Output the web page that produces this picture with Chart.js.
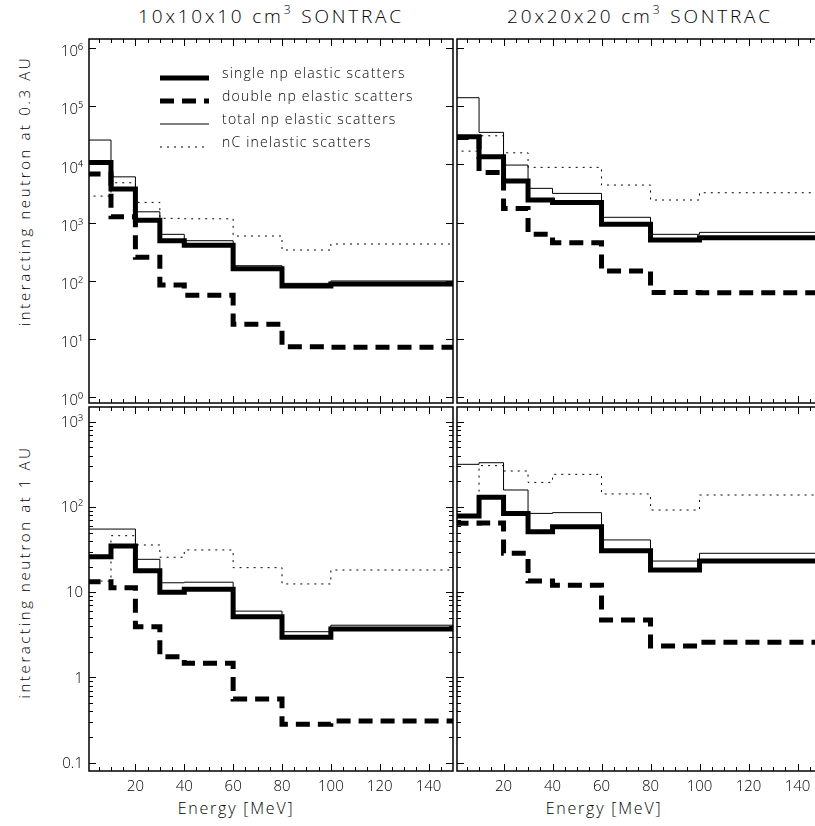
<!DOCTYPE html>
<html>
<head>
<meta charset="utf-8">
<script src="https://cdn.jsdelivr.net/npm/chart.js@4.4.1/dist/chart.umd.min.js"></script>
<style>
  html, body { margin: 0; padding: 0; background: #fff; width: 815px; height: 826px; overflow: hidden; }
  body { position: relative; font-family: "Open Sans", "Liberation Sans", Arial, sans-serif; font-weight: 300; color: #000; }
  canvas { position: absolute; }
  .txt { position: absolute; white-space: nowrap; transform: translate(-50%, -50%); line-height: 1; }
  .title { font-size: 19px; letter-spacing: 2.8px; }
  .title sup { font-size: 12px; vertical-align: 9px; letter-spacing: 3px; }
  .ytitle { font-size: 15px; letter-spacing: 2.6px; transform: translate(-50%, -50%) rotate(-90deg); }
  .xtitle { font-size: 16px; letter-spacing: 1.8px; }
</style>
</head>
<body>
<div class="txt title" style="left:271px; top:15px;">10x10x10 cm<sup>3</sup> SONTRAC</div>
<div class="txt title" style="left:640px; top:15px;">20x20x20 cm<sup>3</sup> SONTRAC</div>
<div class="txt ytitle" style="left:24px; top:191px;">interacting neutron at 0.3 AU</div>
<div class="txt ytitle" style="left:24px; top:572px;">interacting neutron at 1 AU</div>
<div class="txt xtitle" style="left:236px; top:808px;">Energy [MeV]</div>
<div class="txt xtitle" style="left:604px; top:808px;">Energy [MeV]</div>

<canvas id="tl"></canvas>
<canvas id="tr"></canvas>
<canvas id="bl"></canvas>
<canvas id="br"></canvas>

<script>
// energy bin edges [MeV]
const binEdges = [0, 10, 20, 30, 40, 60, 80, 100, 150];

// 0.3 AU, 10x10x10 cm3
const single03Small = [10800, 3770, 1100, 487, 405, 160, 81, 88];
const double03Small = [6800, 1260, 252, 84, 56, 17.8, 7.3, 7.2];
const total03Small = [26200, 6100, 1530, 627, 487, 181, 90, 99];
const inel03Small = [2850, 4830, 2220, 1180, 1160, 586, 337, 427];

// 0.3 AU, 20x20x20 cm3
const single03Large = [29900, 13500, 5170, 2440, 2220, 931, 500, 548];
const double03Large = [29000, 7280, 1750, 627, 450, 147, 63, 62];
const total03Large = [140000, 35500, 9730, 3870, 3170, 1230, 627, 678];
const inel03Large = [16900, 31000, 15800, 8890, 8890, 4410, 2440, 3250];

// 1 AU, 10x10x10 cm3
const single1Small = [26.1, 34.8, 17.9, 10.0, 10.8, 5.17, 2.96, 3.7];
const double1Small = [13.3, 11.3, 3.93, 1.75, 1.47, 0.558, 0.282, 0.308];
const total1Small = [55, 55, 24.3, 12.9, 13.1, 6.0, 3.44, 4.1];
const inel1Small = [13.5, 46, 35.8, 25.7, 31.3, 19.4, 12.5, 18.2];

// 1 AU, 20x20x20 cm3
const single1Large = [78.4, 130, 84, 51.3, 58.6, 30.7, 18.2, 23.2];
const double1Large = [64.3, 65, 28.6, 13.5, 12.1, 4.72, 2.34, 2.58];
const total1Large = [316, 330, 158, 84, 85.7, 41, 23.2, 28.6];
const inel1Large = [78, 305, 264, 194, 241, 142, 92, 138];

const seriesNames = ['single np elastic scatters', 'double np elastic scatters',
                     'total np elastic scatters', 'nC inelastic scatters'];

// ticks
const xTickValues = [5, 10, 15, 20, 25, 30, 35, 40, 45, 50, 55, 60, 65, 70, 75,
                     80, 85, 90, 95, 100, 105, 110, 115, 120, 125, 130, 135, 140, 145];
const xLabelValues = [20, 40, 60, 80, 100, 120, 140];
const nearDecades = [1, 10, 100, 1000, 10000, 100000, 1000000];
const nearTickLabels = ['10⁰', '10¹', '10²', '10³', '10⁴', '10⁵', '10⁶'];
const farDecades = [0.1, 1, 10, 100, 1000];
const farTickLabels = ['0.1', '1', '10', '10²', '10³'];
const minorSteps = [1, 2, 3, 4, 5, 6, 7, 8, 9];

const farTicks = [];
farDecades.forEach(d => minorSteps.forEach(m => { if (d * m <= 1400) farTicks.push(d * m); }));

const isDecade = v => Math.abs(Math.log10(v) - Math.round(Math.log10(v))) < 1e-6;
const tickFont = { family: '"Open Sans", "Liberation Sans", Arial, sans-serif', size: 15, weight: 300 };

// inward tick marks on all four sides plus the box
const frameTicks = {
  id: 'frameTicks',
  afterDatasetsDraw(chart) {
    const { ctx, chartArea: a, scales: { x, y } } = chart;
    ctx.save();
    ctx.strokeStyle = '#000';
    ctx.lineWidth = 1;
    ctx.beginPath();
    x.ticks.forEach(t => {
      const px = Math.round(x.getPixelForValue(t.value)) + 0.5;
      const len = t.value % 20 === 0 ? 7 : 4;
      ctx.moveTo(px, a.bottom); ctx.lineTo(px, a.bottom - len);
      ctx.moveTo(px, a.top); ctx.lineTo(px, a.top + len);
    });
    y.ticks.forEach(t => {
      const py = Math.round(y.getPixelForValue(t.value)) + 0.5;
      const len = isDecade(t.value) ? 7 : 4;
      ctx.moveTo(a.left, py); ctx.lineTo(a.left + len, py);
      ctx.moveTo(a.right, py); ctx.lineTo(a.right - len, py);
    });
    ctx.stroke();
    ctx.lineWidth = 1.5;
    ctx.strokeRect(a.left, a.top, a.width, a.height);
    ctx.restore();
  }
};

// legend drawn inside the plot area
const legendRows = {
  id: 'legendRows',
  afterDatasetsDraw(chart, args, opts) {
    if (!opts.show) return;
    const { ctx, chartArea: a } = chart;
    chart.data.datasets.forEach((ds, i) => {
      const y = a.top + 39 + i * 23;
      ctx.save();
      ctx.strokeStyle = '#000';
      ctx.lineWidth = ds.borderWidth;
      ctx.setLineDash(ds.borderDash);
      ctx.beginPath();
      ctx.moveTo(a.left + 71, y);
      ctx.lineTo(a.left + 120, y);
      ctx.stroke();
      ctx.setLineDash([]);
      ctx.fillStyle = '#000';
      ctx.font = '300 14px "Open Sans", "Liberation Sans", Arial, sans-serif';
      ctx.letterSpacing = '1.2px';
      ctx.textBaseline = 'middle';
      ctx.fillText(ds.label, a.left + 133, y - 4);
      ctx.restore();
    });
  }
};

function stepLine(label, values, width, dash) {
  return {
    label: label,
    data: binEdges.map((e, i) => ({ x: e, y: values[Math.min(i, values.length - 1)] })),
    stepped: 'before',
    borderColor: '#000',
    borderWidth: width,
    borderDash: dash,
    borderCapStyle: 'butt',
    pointRadius: 0,
    fill: false,
    clip: 0
  };
}

function panel(id, series, box) {
  const cv = document.getElementById(id);
  cv.width = box.w;
  cv.height = box.h;
  cv.style.left = box.left + 'px';
  cv.style.top = box.top + 'px';
  const far = box.far;
  return new Chart(cv, {
    type: 'line',
    data: {
      datasets: [
        stepLine(seriesNames[0], series[0], 5, []),
        stepLine(seriesNames[1], series[1], 5, [14, 8]),
        stepLine(seriesNames[2], series[2], 1, []),
        stepLine(seriesNames[3], series[3], 1, [2, 5])
      ]
    },
    options: {
      responsive: false,
      animation: false,
      events: [],
      layout: { padding: { top: 20, right: 5, left: box.padLeft, bottom: 0 } },
      plugins: {
        legend: { display: false },
        tooltip: { enabled: false },
        legendRows: { show: !!box.legend }
      },
      scales: {
        x: {
          type: 'linear', min: 1, max: 150,
          grid: { display: false, drawTicks: false },
          border: { display: false },
          afterBuildTicks: s => { s.ticks = xTickValues.map(v => ({ value: v })); },
          afterFit: s => { s.height = box.xh; },
          ticks: {
            display: box.xLabels, autoSkip: false, maxRotation: 0, padding: 7, color: '#000',
            font: tickFont,
            callback: v => xLabelValues.includes(v) ? String(v) : ''
          }
        },
        y: {
          type: 'logarithmic',
          min: far ? 0.08 : 0.79,
          max: far ? 1486 : 1430000,
          grid: { display: false, drawTicks: false },
          border: { display: false },
          afterBuildTicks: s => {
            s.ticks = (far ? farTicks : nearDecades).map(v => ({ value: v }));
          },
          afterFit: s => { s.width = box.yw; },
          ticks: {
            display: box.yLabels, autoSkip: false, padding: 6, color: '#000',
            labelOffset: far ? 1 : 4,
            font: tickFont,
            callback: v => {
              const list = far ? farDecades : nearDecades;
              const names = far ? farTickLabels : nearTickLabels;
              const i = list.findIndex(d => Math.abs(d - v) < d * 1e-6);
              return i >= 0 ? names[i] : '';
            }
          }
        }
      }
    },
    plugins: [frameTicks, legendRows]
  });
}

// plot areas: left x 89-453, right x 457-822; top y 39-403, bottom y 407-771
panel('tl', [single03Small, double03Small, total03Small, inel03Small],
  { left: 0, top: 19, w: 458, h: 404, padLeft: 0, yw: 89, xh: 20, xLabels: false, yLabels: true, far: false, legend: true });
panel('tr', [single03Large, double03Large, total03Large, inel03Large],
  { left: 455, top: 19, w: 372, h: 404, padLeft: 2, yw: 0, xh: 20, xLabels: false, yLabels: false, far: false });
panel('bl', [single1Small, double1Small, total1Small, inel1Small],
  { left: 0, top: 387, w: 458, h: 429, padLeft: 0, yw: 89, xh: 45, xLabels: true, yLabels: true, far: true });
panel('br', [single1Large, double1Large, total1Large, inel1Large],
  { left: 455, top: 387, w: 372, h: 429, padLeft: 2, yw: 0, xh: 45, xLabels: true, yLabels: false, far: true });
</script>
</body>
</html>
